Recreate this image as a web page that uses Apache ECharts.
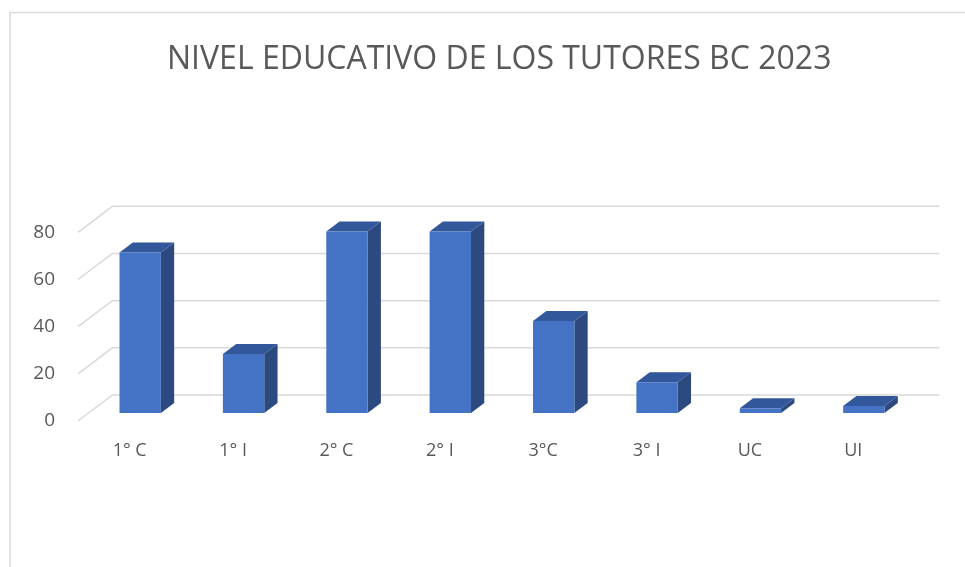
<!DOCTYPE html>
<html>
<head>
<meta charset="utf-8">
<script src="https://cdn.jsdelivr.net/npm/echarts@6/dist/echarts.min.js"></script>
<style>
  html, body { margin: 0; padding: 0; background: #fff; }
  #chart { width: 965px; height: 567px; }
</style>
</head>
<body>
<div id="chart"></div>
<script>
// datos
var categories = ["1° C", "1° I", "2° C", "2° I", "3°C", "3° I", "UC", "UI"];
var tutores = [68, 25, 77, 77, 39, 13, 2, 3];
var yTicks = [0, 20, 40, 60, 80];

// profundidad del "3D" (pared del fondo) y de las barras
var wallDx = 34.4, wallDy = 26;
var barOffX = 10.5, barOffY = 8;
var barDx = 13.3, barDy = 10;

var chart = echarts.init(document.getElementById("chart"));

chart.setOption({
  backgroundColor: "#ffffff",
  animation: false,
  title: {
    text: "NIVEL EDUCATIVO DE LOS TUTORES BC 2023",
    left: 162,
    top: 39,
    textStyle: {
      fontFamily: "Open Sans",
      fontWeight: "normal",
      fontSize: 32,
      color: "#595959"
    }
  },
  graphic: [
    {
      type: "polyline",
      shape: { points: [[10, 567], [10, 12.5], [965, 12.5]] },
      style: { stroke: "#d9d9d9", lineWidth: 1.5, fill: null }
    }
  ],
  grid: {
    left: 78,
    right: 60,
    top: 232.3,
    bottom: 146
  },
  xAxis: {
    type: "category",
    data: categories,
    axisLine: { show: false },
    axisTick: { show: false },
    axisLabel: {
      margin: 21,
      fontFamily: "Open Sans",
      fontSize: 18,
      color: "#595959"
    }
  },
  yAxis: {
    type: "value",
    min: 0,
    max: 80,
    interval: 20,
    axisLine: { show: false },
    axisTick: { show: false },
    splitLine: { show: false },
    axisLabel: {
      margin: 23,
      fontFamily: "Open Sans",
      fontSize: 19,
      color: "#595959"
    }
  },
  series: [
    {
      // líneas del piso y de la pared del fondo
      type: "custom",
      silent: true,
      data: yTicks.map(function (t) { return [0, t]; }),
      renderItem: function (params, api) {
        var cs = params.coordSys;
        var p = api.coord([0, api.value(1)]);
        return {
          type: "polyline",
          shape: {
            points: [
              [cs.x, p[1]],
              [cs.x + wallDx, p[1] - wallDy],
              [cs.x + cs.width + wallDx, p[1] - wallDy]
            ]
          },
          style: { stroke: "#d9d9d9", lineWidth: 1.5, fill: null }
        };
      }
    },
    {
      name: "Tutores",
      type: "custom",
      data: tutores.map(function (v, i) { return [i, v]; }),
      renderItem: function (params, api) {
        var p0 = api.coord([api.value(0), 0]);
        var p1 = api.coord([api.value(0), api.value(1)]);
        var w = api.size([1, 0])[0] * 0.4;
        var x0 = p0[0] + barOffX - w / 2;
        var x1 = x0 + w;
        var yb = p0[1] - barOffY;
        var yt = p1[1] - barOffY;
        return {
          type: "group",
          children: [
            {
              type: "polygon",
              shape: { points: [[x1, yb], [x1, yt], [x1 + barDx, yt - barDy], [x1 + barDx, yb - barDy]] },
              style: { fill: "#2c4a80" }
            },
            {
              type: "polygon",
              shape: { points: [[x0, yt], [x1, yt], [x1 + barDx, yt - barDy], [x0 + barDx, yt - barDy]] },
              style: { fill: "#32579a" }
            },
            {
              type: "rect",
              shape: { x: x0, y: yt, width: w, height: yb - yt },
              style: { fill: "#4472c4" }
            }
          ]
        };
      }
    }
  ]
});
</script>
</body>
</html>
